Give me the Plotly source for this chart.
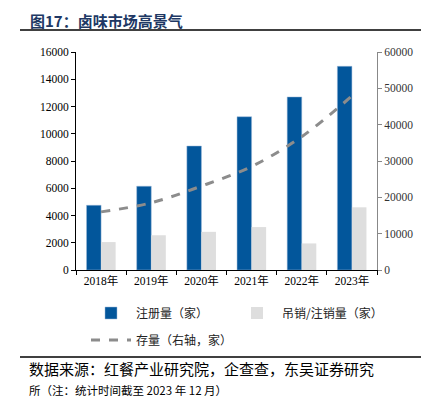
import plotly.graph_objects as go

years = ["2018年", "2019年", "2020年", "2021年", "2022年", "2023年"]
registered = [4750, 6150, 9100, 11250, 12700, 14950]
cancelled = [2050, 2550, 2800, 3150, 1950, 4600]
stock = [16000, 18500, 23100, 28500, 36700, 47900]

# the page body has an 8px margin, so the figure is drawn 8px right/down
OFF = 8
W, H = 429 - OFF, 397 - OFF
L, R, T, B = 76 - OFF, 52, 52 - OFF, 127
pw, ph = W - L - R, H - T - B

def px(sx):
    return (sx - OFF - L) / pw

def py(sy):
    return (H - B - (sy - OFF)) / ph

serif = "'Liberation Serif', 'Noto Sans CJK SC'"
cjk = "Noto Sans CJK SC"

fig = go.Figure()
fig.add_trace(go.Bar(x=years, y=registered, name="注册量（家）", legend="legend",
                     marker=dict(color="#02569B", line=dict(width=0.5, color="#9DB8D8"))))
fig.add_trace(go.Bar(x=years, y=cancelled, name="吊销/注销量（家）", legend="legend2",
                     marker=dict(color="#DEDEDE", line=dict(width=0))))
fig.add_trace(go.Scatter(x=years, y=stock, name="存量（右轴，家）", yaxis="y2", legend="legend3",
                         mode="lines", line=dict(color="#8C8C8C", width=3, dash="dash", shape="spline")))

leg = dict(xanchor="left", yanchor="middle", font=dict(family=cjk, size=12, color="#222"),
           itemwidth=40, bgcolor="rgba(0,0,0,0)", orientation="h")

fig.update_layout(
    width=W, height=H,
    margin=dict(l=L, r=R, t=T, b=B, autoexpand=False),
    plot_bgcolor="white", paper_bgcolor="white",
    barmode="group", bargap=0.42, bargroupgap=0,
    font=dict(family=serif, size=11, color="#000"),
    xaxis=dict(showline=True, linecolor="#000", linewidth=1, ticks="outside", ticklen=4,
               tickson="boundaries", tickcolor="#000", showgrid=False,
               tickfont=dict(family=serif, size=11.5)),
    yaxis=dict(range=[0, 16000], dtick=2000, showline=True, linecolor="#000", linewidth=1,
               ticks="outside", ticklen=4, tickcolor="#000", showgrid=False, zeroline=False,
               tickformat="d", tickfont=dict(family=serif, size=11.5)),
    yaxis2=dict(range=[0, 60000], dtick=10000, overlaying="y", side="right", showline=True,
                linecolor="#888", linewidth=1, ticks="outside", ticklen=4, tickcolor="#888",
                showgrid=False, zeroline=False, tickformat="d",
                tickfont=dict(family=serif, size=11.5, color="#333")),
    legend=dict(leg, x=px(86), y=py(313)),
    legend2=dict(leg, x=px(232), y=py(313)),
    legend3=dict(leg, x=px(86), y=py(340)),
    showlegend=True,
)

fig.add_annotation(text="<b>图17：卤味市场高景气</b>", xref="paper", yref="paper",
                   x=px(29), y=py(8.5), xanchor="left", yanchor="top", showarrow=False,
                   borderpad=0, font=dict(family=cjk, size=15, color="#203864"))
fig.add_shape(type="line", xref="paper", yref="paper", x0=px(20), x1=px(429),
              y0=py(30), y1=py(30), line=dict(color="#000", width=1.5))
fig.add_shape(type="line", xref="paper", yref="paper", x0=px(20), x1=px(429),
              y0=py(357), y1=py(357), line=dict(color="#000", width=1.5))
fig.add_annotation(
    text="数据来源：红餐产业研究院，企查查，东吴证券研究<br>"
         "<span style='font-size:11.5px'>所（注：统计时间截至 2023 年 12 月）</span>",
    xref="paper", yref="paper", x=px(28), y=py(398.5), xanchor="left", yanchor="bottom",
    align="left", showarrow=False, borderpad=0, font=dict(family=cjk, size=15, color="#000"))

fig.write_html("out.html")
